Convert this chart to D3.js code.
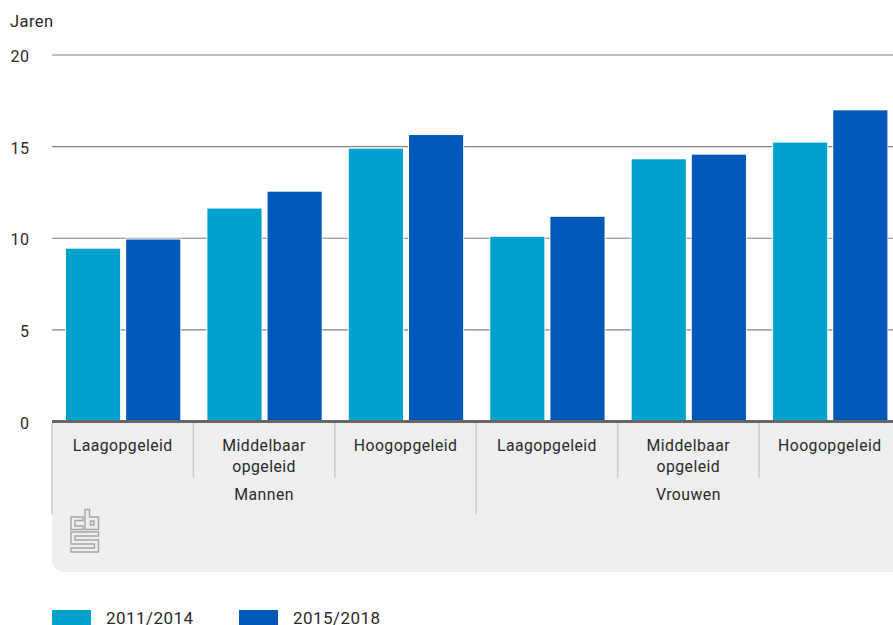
<!DOCTYPE html>
<html>
<head>
<meta charset="utf-8">
<script src="https://cdn.jsdelivr.net/npm/d3@7"></script>
<style>
  html, body { margin: 0; padding: 0; background: #fff; overflow: hidden; }
  text { font-family: Roboto, "Noto Sans", sans-serif; fill: #2a2a2a; letter-spacing: 0.45px; }
</style>
</head>
<body>
<svg id="chart" width="893" height="625"></svg>
<script>
// Gemiddelde levensjaren per opleidingsniveau en geslacht
const genders = ["Mannen", "Vrouwen"];
const levels = [["Laagopgeleid"], ["Middelbaar", "opgeleid"], ["Hoogopgeleid"]];
const periods = ["2011/2014", "2015/2018"];
const values2011 = [9.43, 11.62, 14.89, 10.08, 14.31, 15.22];
const values2015 = [9.93, 12.54, 15.63, 11.17, 14.56, 16.98];
const yTicks = [0, 5, 10, 15, 20];
const colors = ["#00a1cd", "#0058b8"];

const svg = d3.select("#chart");
const plotLeft = 52, plotRight = 893;
const y = d3.scaleLinear().domain([0, 20]).range([421.5, 55]);
const groupKeys = d3.range(values2011.length);
const x0 = d3.scaleBand().domain(groupKeys).range([52, 900.5]);
const x1 = d3.scaleBand().domain(periods).range([14, 128.3]).paddingInner(0.1);

// Grijs vlak onder de as
svg.append("path")
  .attr("fill", "#efefef")
  .attr("d", `M${plotLeft},421H${plotRight}V572H${plotLeft + 12}a12,12 0 0 1 -12,-12Z`);

// Rasterlijnen
svg.append("g").selectAll("line").data(yTicks.filter(d => d > 0)).join("line")
  .attr("x1", plotLeft).attr("x2", plotRight)
  .attr("y1", d => y(d)).attr("y2", d => y(d))
  .attr("stroke", "#808080").attr("stroke-width", 1.2);

// Y-as labels
svg.append("g").selectAll("text").data(yTicks).join("text")
  .attr("x", 29.5).attr("y", d => y(d) + 7)
  .attr("text-anchor", "end").attr("font-size", 16)
  .text(d => d);
svg.append("text").attr("x", 10).attr("y", 27).attr("font-size", 16.5).text("Jaren");

// Staven met een smalle lichte rand
const rows = [values2011, values2015];
periods.forEach((p, i) => {
  svg.append("g").selectAll("rect").data(rows[i]).join("rect")
    .attr("x", (d, j) => x0(j) + x1(p))
    .attr("width", x1.bandwidth())
    .attr("y", d => y(d))
    .attr("height", d => y(0) - y(d))
    .attr("fill", colors[i])
    .attr("stroke", "#fff").attr("stroke-opacity", 0.8).attr("stroke-width", 2)
    .style("paint-order", "stroke");
});

// Nullijn
svg.append("line").attr("x1", plotLeft).attr("x2", plotRight)
  .attr("y1", 421.5).attr("y2", 421.5).attr("stroke", "#666").attr("stroke-width", 3);

// Scheidingslijnen tussen categorieën
const sep = svg.append("g").attr("stroke", "#ccc").attr("stroke-width", 1.5);
groupKeys.forEach(k => {
  sep.append("line").attr("x1", x0(k)).attr("x2", x0(k))
    .attr("y1", 423).attr("y2", k % 3 === 0 ? 514 : 478);
});

// Categorielabels
groupKeys.forEach(k => {
  levels[k % 3].forEach((t, n) => {
    svg.append("text")
      .attr("x", x0(k) + x0.bandwidth() / 2)
      .attr("y", 451 + n * 21)
      .attr("text-anchor", "middle").attr("font-size", 15.8)
      .text(t);
  });
});
genders.forEach((g, i) => {
  svg.append("text")
    .attr("x", x0(i * 3 + 1) + x0.bandwidth() / 2)
    .attr("y", 499.5)
    .attr("text-anchor", "middle").attr("font-size", 15.8)
    .text(g);
});

// Beeldmerk
const logo = svg.append("g")
  .attr("fill", "none").attr("stroke", "#a6a6a6").attr("stroke-width", 1.4);
logo.append("path").attr("d", "M83,517H71V529.5H83V526H75V520.5H83Z");
logo.append("path").attr("d", "M85,509.5H89.5V517H98.5V529.5H85Z");
logo.append("path").attr("d", "M90.5,521H94V525H90.5Z");
logo.append("path").attr("d", "M71,532H98.5V536H75V540H98.5V552H71V548H94.5V544H71Z");

// Legenda
const legendX = [52, 239];
periods.forEach((p, i) => {
  svg.append("rect").attr("x", legendX[i]).attr("y", 610).attr("width", 39).attr("height", 15).attr("fill", colors[i]);
  svg.append("text").attr("x", legendX[i] + 54).attr("y", 623.5).attr("font-size", 17).text(p);
});
</script>
</body>
</html>
